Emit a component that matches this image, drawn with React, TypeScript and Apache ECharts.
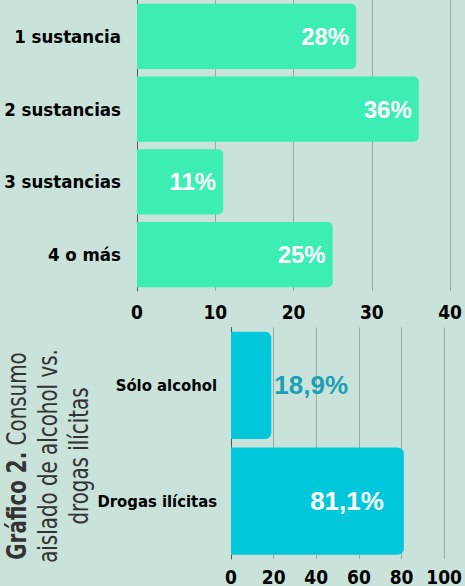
import React, { useEffect, useRef } from "react";
import * as echarts from "echarts";

const substanceCats = ["1 sustancia", "2 sustancias", "3 sustancias", "4 o más"];
const substanceVals = [28, 36, 11, 25];
const topTicks = { min: 0, max: 40, interval: 10 };

const typeCats = ["Sólo alcohol", "Drogas ilícitas"];
const typeVals = [18.9, 81.1];
const bottomTicks = { min: 0, max: 100, interval: 20 };

const titleBold = "Gráfico 2.";
const titleRest = " Consumo";
const titleLine2 = "aislado de alcohol vs.";
const titleLine3 = "drogas ilícitas";

const COND = "'Liberation Sans Narrow', 'DejaVu Sans Condensed', 'Roboto Condensed', sans-serif";
const SANS = "'Liberation Sans', Arial, sans-serif";
const BG = "#c9e3da";
const GRID_LINE = "#9aaaa4";

export default function App() {
  const ref = useRef<HTMLDivElement>(null);
  useEffect(() => {
    document.body.style.margin = "0";
    const chart = echarts.init(ref.current!, undefined, { renderer: "svg" });
    const axisLabelStyle = {
      fontFamily: COND,
      fontWeight: "bold" as const,
      fontSize: 19,
      color: "#000",
    };
    chart.setOption({
      animation: false,
      backgroundColor: BG,
      grid: [
        { left: 137, right: 11, top: 0, height: 291 },
        { left: 231, right: 14, top: 327.5, height: 233 },
      ],
      xAxis: [
        {
          gridIndex: 0,
          type: "value",
          ...topTicks,
          axisLine: { show: false },
          axisTick: { show: false },
          splitLine: { show: true, lineStyle: { color: GRID_LINE, width: 1 } },
          axisLabel: { ...axisLabelStyle, margin: 11 },
        },
        {
          gridIndex: 1,
          type: "value",
          ...bottomTicks,
          axisLine: { show: false },
          axisTick: { show: false },
          splitLine: { show: true, lineStyle: { color: GRID_LINE, width: 1 } },
          axisLabel: { ...axisLabelStyle, margin: 8 },
        },
      ],
      yAxis: [
        {
          gridIndex: 0,
          type: "category",
          data: substanceCats,
          inverse: true,
          axisLine: { show: true, lineStyle: { color: "#555", width: 1 } },
          axisTick: { show: false },
          axisLabel: { ...axisLabelStyle, fontSize: 18.5, margin: 16 },
        },
        {
          gridIndex: 1,
          type: "category",
          data: typeCats,
          inverse: true,
          axisLine: { show: true, lineStyle: { color: "#555", width: 1 } },
          axisTick: { show: false },
          axisLabel: { ...axisLabelStyle, fontSize: 16.5, margin: 14 },
        },
      ],
      series: [
        {
          type: "bar",
          xAxisIndex: 0,
          yAxisIndex: 0,
          data: substanceVals,
          barCategoryGap: "10.6%",
          itemStyle: { color: "#3cedb4", borderRadius: [0, 5, 5, 0] },
          label: {
            show: true,
            position: "insideRight",
            distance: 7,
            color: "#fff",
            fontFamily: SANS,
            fontWeight: "bold",
            fontSize: 24,
            formatter: (p: any) => `${p.value}%`,
          },
        },
        {
          type: "bar",
          xAxisIndex: 1,
          yAxisIndex: 1,
          barCategoryGap: "7.3%",
          data: typeVals.map((v, i) => ({
            value: v,
            label:
              i === 0
                ? { position: "right", distance: 3, color: "#1b9fb5" }
                : { position: "insideRight", distance: 20, color: "#fff" },
          })),
          itemStyle: { color: "#00c8da", borderRadius: [0, 6, 6, 0] },
          label: {
            show: true,
            fontFamily: SANS,
            fontWeight: "bold",
            fontSize: 26,
            formatter: (p: any) => `${p.value.toFixed(1).replace(".", ",")}%`,
          },
        },
      ],
      graphic: [
        {
          type: "text",
          x: 48,
          y: 456,
          rotation: Math.PI / 2,
          scaleX: 0.85,
          style: {
            text: `{b|${titleBold}}{r|${titleRest}}\n{r|${titleLine2}}\n{r|${titleLine3}}`,
            align: "center",
            verticalAlign: "middle",
            fill: "#333",
            rich: {
              b: { fontFamily: COND, fontWeight: "bold", fontSize: 26, lineHeight: 31, fill: "#333" },
              r: { fontFamily: COND, fontWeight: "normal", fontSize: 26, lineHeight: 31, fill: "#333" },
            },
          },
        },
      ],
    });
    return () => chart.dispose();
  }, []);
  return <div ref={ref} style={{ width: 465, height: 586 }} />;
}
